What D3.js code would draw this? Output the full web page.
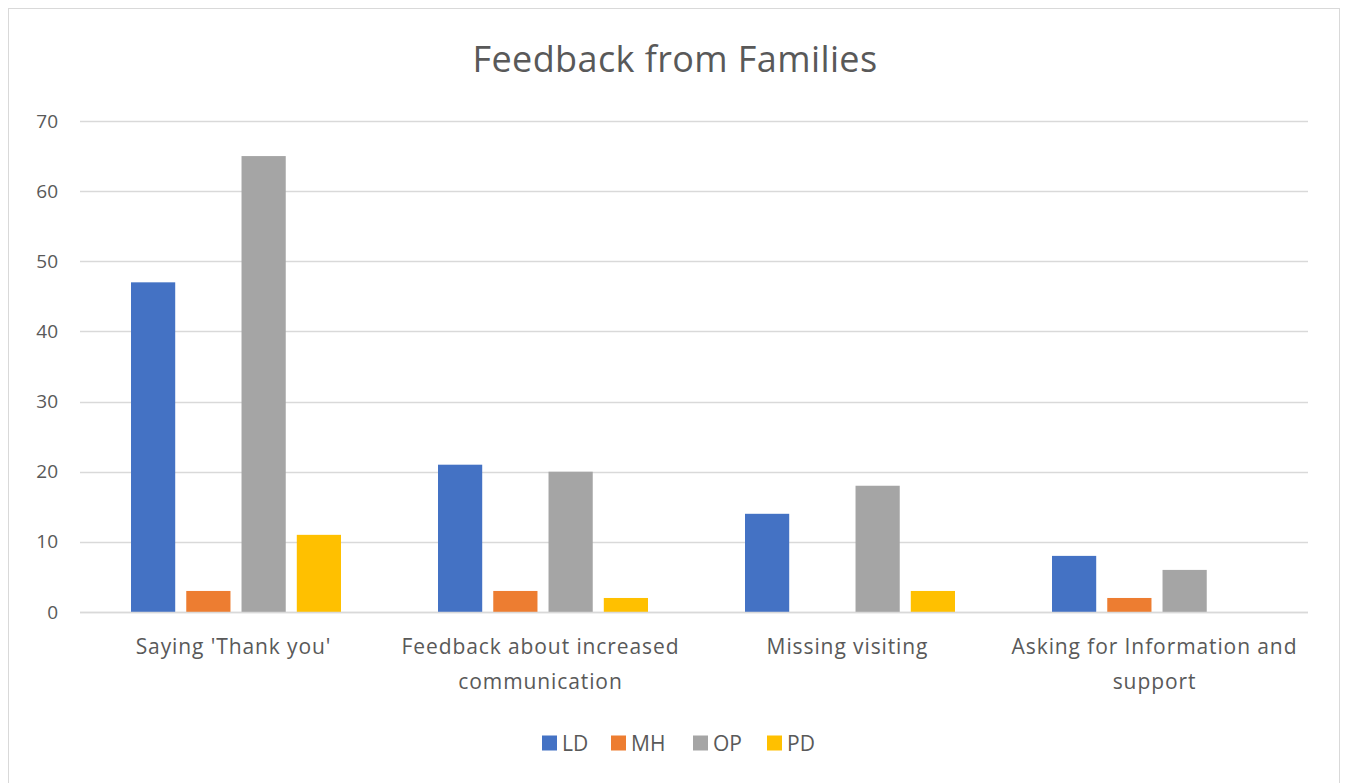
<!DOCTYPE html>
<html>
<head>
<meta charset="utf-8">
<script src="https://cdn.jsdelivr.net/npm/d3@7"></script>
<style>
  body { margin: 0; background: #fff; }
  text { font-family: "Open Sans", "Liberation Sans", sans-serif; fill: #595959; }
</style>
</head>
<body>
<svg width="1346" height="783"></svg>
<script>
// categories, series and values
var categories = ["Saying 'Thank you'", "Feedback about increased communication", "Missing visiting", "Asking for Information and support"];
var categoryLines = [["Saying 'Thank you'"], ["Feedback about increased", "communication"], ["Missing visiting"], ["Asking for Information and", "support"]];
var seriesNames = ["LD", "MH", "OP", "PD"];
var LD = [47, 21, 14, 8];
var MH = [3, 3, 0, 2];
var OP = [65, 20, 18, 6];
var PD = [11, 2, 3, 0];
var yTicks = [0, 10, 20, 30, 40, 50, 60, 70];
var colors = ["#4472C4", "#ED7D31", "#A5A5A5", "#FFC000"];

var values = [LD, MH, OP, PD];

var svg = d3.select("svg");

// chart frame
svg.append("rect")
    .attr("x", 8.5).attr("y", 8.5)
    .attr("width", 1331).attr("height", 790)
    .attr("fill", "#fff")
    .attr("stroke", "#d9d9d9");

var plotLeft = 80, plotRight = 1308, plotTop = 121, plotBottom = 612;

var x = d3.scaleBand()
    .domain(d3.range(categories.length))
    .range([plotLeft, plotRight]);

var x1 = d3.scaleBand()
    .domain(d3.range(seriesNames.length))
    .range([51, 261])
    .paddingInner(0.2);

var y = d3.scaleLinear()
    .domain([0, 70])
    .range([plotBottom, plotTop]);

// gridlines
svg.append("g")
    .selectAll("line")
    .data(yTicks)
    .enter().append("line")
    .attr("x1", plotLeft).attr("x2", plotRight)
    .attr("y1", function(d) { return Math.round(y(d)) + 0.5; })
    .attr("y2", function(d) { return Math.round(y(d)) + 0.5; })
    .attr("stroke", "#d9d9d9")
    .attr("stroke-width", 1.3);

// y axis labels
var yAxis = svg.append("g")
    .attr("transform", "translate(" + plotLeft + ",0)")
    .call(d3.axisLeft(y).tickValues(yTicks).tickSize(0).tickPadding(22));
yAxis.select(".domain").remove();
yAxis.selectAll("text")
    .attr("font-size", 19)
    .attr("fill", "#595959")
    .style("font-family", "'Open Sans', sans-serif");

// bars
var groups = svg.append("g")
    .selectAll("g")
    .data(values)
    .enter().append("g")
    .attr("fill", function(d, i) { return colors[i]; });

groups.selectAll("rect")
    .data(function(d, s) { return d.map(function(v, c) { return { v: v, c: c, s: s }; }); })
    .enter().append("rect")
    .filter(function(d) { return d.v > 0; })
    .attr("x", function(d) { return x(d.c) + x1(d.s); })
    .attr("width", x1.bandwidth())
    .attr("y", function(d) { return y(d.v); })
    .attr("height", function(d) { return y(0) - y(d.v); });

// baseline
svg.append("line")
    .attr("x1", plotLeft).attr("x2", plotRight)
    .attr("y1", Math.round(y(0)) + 0.5).attr("y2", Math.round(y(0)) + 0.5)
    .attr("stroke", "#d9d9d9")
    .attr("stroke-width", 1.3);

// category labels
var cat = svg.append("g")
    .selectAll("text")
    .data(categoryLines)
    .enter().append("text")
    .attr("text-anchor", "middle")
    .attr("font-size", 21)
    .attr("letter-spacing", 0.9)
    .attr("transform", function(d, i) { return "translate(" + (x(i) + x.bandwidth() / 2) + ",654)"; });
cat.selectAll("tspan")
    .data(function(d) { return d; })
    .enter().append("tspan")
    .attr("x", 0)
    .attr("dy", function(d, i) { return i === 0 ? 0 : 35; })
    .text(function(d) { return d; });

// title
svg.append("text")
    .attr("x", 675).attr("y", 72)
    .attr("text-anchor", "middle")
    .attr("font-size", 36)
    .attr("letter-spacing", 0.4)
    .text("Feedback from Families");

// legend
var legend = svg.append("g").attr("transform", "translate(542,743)");
var legendX = [0, 69, 151, 225];
var item = legend.selectAll("g")
    .data(seriesNames)
    .enter().append("g")
    .attr("transform", function(d, i) { return "translate(" + legendX[i] + ",0)"; });
item.append("rect")
    .attr("x", 0).attr("y", -7.5)
    .attr("width", 15).attr("height", 15)
    .attr("fill", function(d, i) { return colors[i]; });
item.append("text")
    .attr("x", 20).attr("y", 7.5)
    .attr("font-size", 21)
    .text(function(d) { return d; });
</script>
</body>
</html>
